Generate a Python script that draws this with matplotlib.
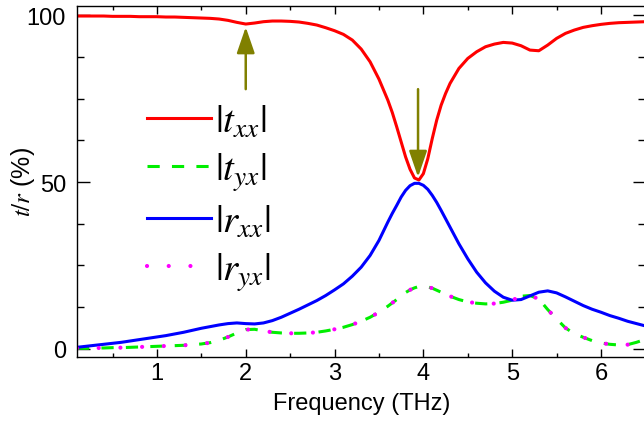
import matplotlib
matplotlib.use('Agg')
import matplotlib.pyplot as plt
import numpy as np
from matplotlib.ticker import MultipleLocator

plt.rcParams['font.family'] = ['Liberation Sans', 'DejaVu Sans']
plt.rcParams['mathtext.fontset'] = 'stix'

# frequency grid (THz), finer around the resonance near 3.9 THz
freq = np.concatenate([np.arange(0.1, 3.55, 0.1),
                       np.arange(3.6, 4.26, 0.05),
                       np.arange(4.3, 6.55, 0.1)]).round(2)

t_xx = [99.7, 99.7, 99.7, 99.7, 99.6, 99.6, 99.6, 99.5, 99.5, 99.5,
        99.4, 99.4, 99.3, 99.2, 99.1, 99.0, 98.8, 98.4, 97.8, 97.3,
        97.6, 98.0, 98.2, 98.2, 98.1, 97.9, 97.5, 97.0, 96.2, 95.3,
        94.2, 92.5, 89.8, 86.0, 80.8,
        74.5, 70.8, 66.5, 62.0, 57.5, 53.8, 51.2, 50.6, 52.5, 57.0,
        63.0, 68.5, 73.0, 76.5,
        79.5, 84.0, 87.0, 89.0, 90.5, 91.3, 91.8, 91.6,
        90.8, 89.5, 89.3, 91.0, 93.0, 94.5, 95.5, 96.3, 96.8, 97.2,
        97.5, 97.7, 97.8, 97.9, 98.0]

t_yx = [0.2, 0.2, 0.3, 0.3, 0.4, 0.4, 0.5, 0.6, 0.7, 0.8,
        0.9, 1.0, 1.1, 1.3, 1.5, 1.9, 2.6, 3.6, 4.8, 5.8,
        5.9, 5.4, 5.0, 4.8, 4.7, 4.7, 4.8, 5.0, 5.4, 5.9,
        6.5, 7.3, 8.3, 9.5, 11.0,
        12.8, 13.8, 14.8, 15.9, 16.9, 17.7, 18.3, 18.7, 18.8, 18.6,
        18.2, 17.6, 17.0, 16.4,
        15.8, 14.8, 14.1, 13.7, 13.5, 13.6, 14.0, 14.6,
        15.8, 16.0, 15.0, 11.8, 9.0, 6.3, 4.6, 3.5, 2.5, 1.8,
        1.4, 1.2, 1.3, 2.0, 2.9]

r_xx = [0.5, 0.8, 1.1, 1.4, 1.7, 2.0, 2.4, 2.8, 3.2, 3.6,
        4.0, 4.5, 5.0, 5.6, 6.2, 6.7, 7.2, 7.6, 7.8, 7.6,
        7.5, 7.8, 8.5, 9.5, 10.7, 11.9, 13.2, 14.5, 16.0, 17.7,
        19.5, 21.8, 24.5, 28.0, 32.5,
        38.0, 40.6, 43.0, 45.5, 47.5, 48.9, 49.6, 49.6, 49.0, 47.8,
        46.0, 43.9, 41.5, 39.0,
        36.5, 31.5, 27.0, 23.0, 19.8, 17.3, 15.5, 14.6,
        14.8, 15.9, 17.0, 17.4, 16.8, 15.6, 14.3, 13.0, 11.9, 11.0,
        10.0, 9.2, 8.3, 7.6, 6.9]

r_yx = [0.2, 0.2, 0.3, 0.3, 0.4, 0.4, 0.5, 0.6, 0.7, 0.8,
        0.9, 1.0, 1.1, 1.3, 1.5, 1.9, 2.6, 3.6, 4.8, 5.8,
        5.9, 5.4, 5.0, 4.8, 4.7, 4.7, 4.8, 5.0, 5.4, 5.9,
        6.5, 7.3, 8.3, 9.5, 11.0,
        12.8, 13.8, 14.8, 15.9, 16.9, 17.7, 18.3, 18.7, 18.8, 18.6,
        18.2, 17.6, 17.0, 16.4,
        15.8, 14.8, 14.1, 13.7, 13.5, 13.6, 14.0, 14.6,
        15.8, 16.0, 15.0, 11.8, 9.0, 6.3, 4.6, 3.5, 2.5, 1.8,
        1.4, 1.2, 1.3, 2.0, 2.9]

labels = [r'$|t_{xx}|$', r'$|t_{yx}|$', r'$|r_{xx}|$', r'$|r_{yx}|$']

# arrows: (x, tail, head)
arrows = [(2.0, 77.8, 96.4), (3.94, 77.8, 51.5)]

fig = plt.figure(figsize=(6.44, 4.31), dpi=100)
ax = fig.add_axes([77 / 644, 1 - 358 / 431, 568.4 / 644, 351 / 431])

ax.plot(freq, t_xx, color='#ff0000', lw=2.2, label=labels[0])
ax.plot(freq, t_yx, color='#00ee00', lw=2.2, ls=(0, (4, 4)), label=labels[1])
ax.plot(freq, r_xx, color='#0000ff', lw=2.2, label=labels[2])
ax.plot(freq, r_yx, color='#ff00ff', lw=3.0, ls=(0, (0.01, 5.2)),
        dash_capstyle='round', label=labels[3])

for x, y0, y1 in arrows:
    ax.annotate('', xy=(x, y1), xytext=(x, y0),
                arrowprops=dict(arrowstyle='-|>,head_length=1.6,head_width=0.55',
                                color='#808000', lw=1.8, mutation_scale=10,
                                shrinkA=0, shrinkB=0))

ax.set_xlim(0.1, 6.5)
ax.set_ylim(-2.4, 102.7)
ax.xaxis.set_major_locator(MultipleLocator(1))
ax.xaxis.set_minor_locator(MultipleLocator(0.5))
ax.yaxis.set_major_locator(MultipleLocator(50))
ax.yaxis.set_minor_locator(MultipleLocator(12.5))
ax.tick_params(which='both', direction='in', top=True, right=True, width=1)
ax.tick_params(axis='x', which='major', length=6, pad=3.5, labelsize=17)
ax.tick_params(axis='x', which='minor', length=3)
ax.tick_params(axis='y', which='major', length=9, pad=8, labelsize=17)
ax.tick_params(axis='y', which='minor', length=5)
for s in ax.spines.values():
    s.set_linewidth(1)

ax.set_xlabel('Frequency (THz)', fontsize=17, labelpad=6)
ax.set_ylabel(r'$t/r$ (%)', fontsize=18)
ax.yaxis.set_label_coords(-0.07, 0.5)

ax.legend(loc='upper left', bbox_to_anchor=(147 / 644, 1 - 105 / 431),
          bbox_transform=fig.transFigure, frameon=False, fontsize=28,
          handlelength=1.65, handletextpad=0.1, labelspacing=0.27,
          borderaxespad=0, borderpad=0)

fig.savefig('out.png', dpi=100)
